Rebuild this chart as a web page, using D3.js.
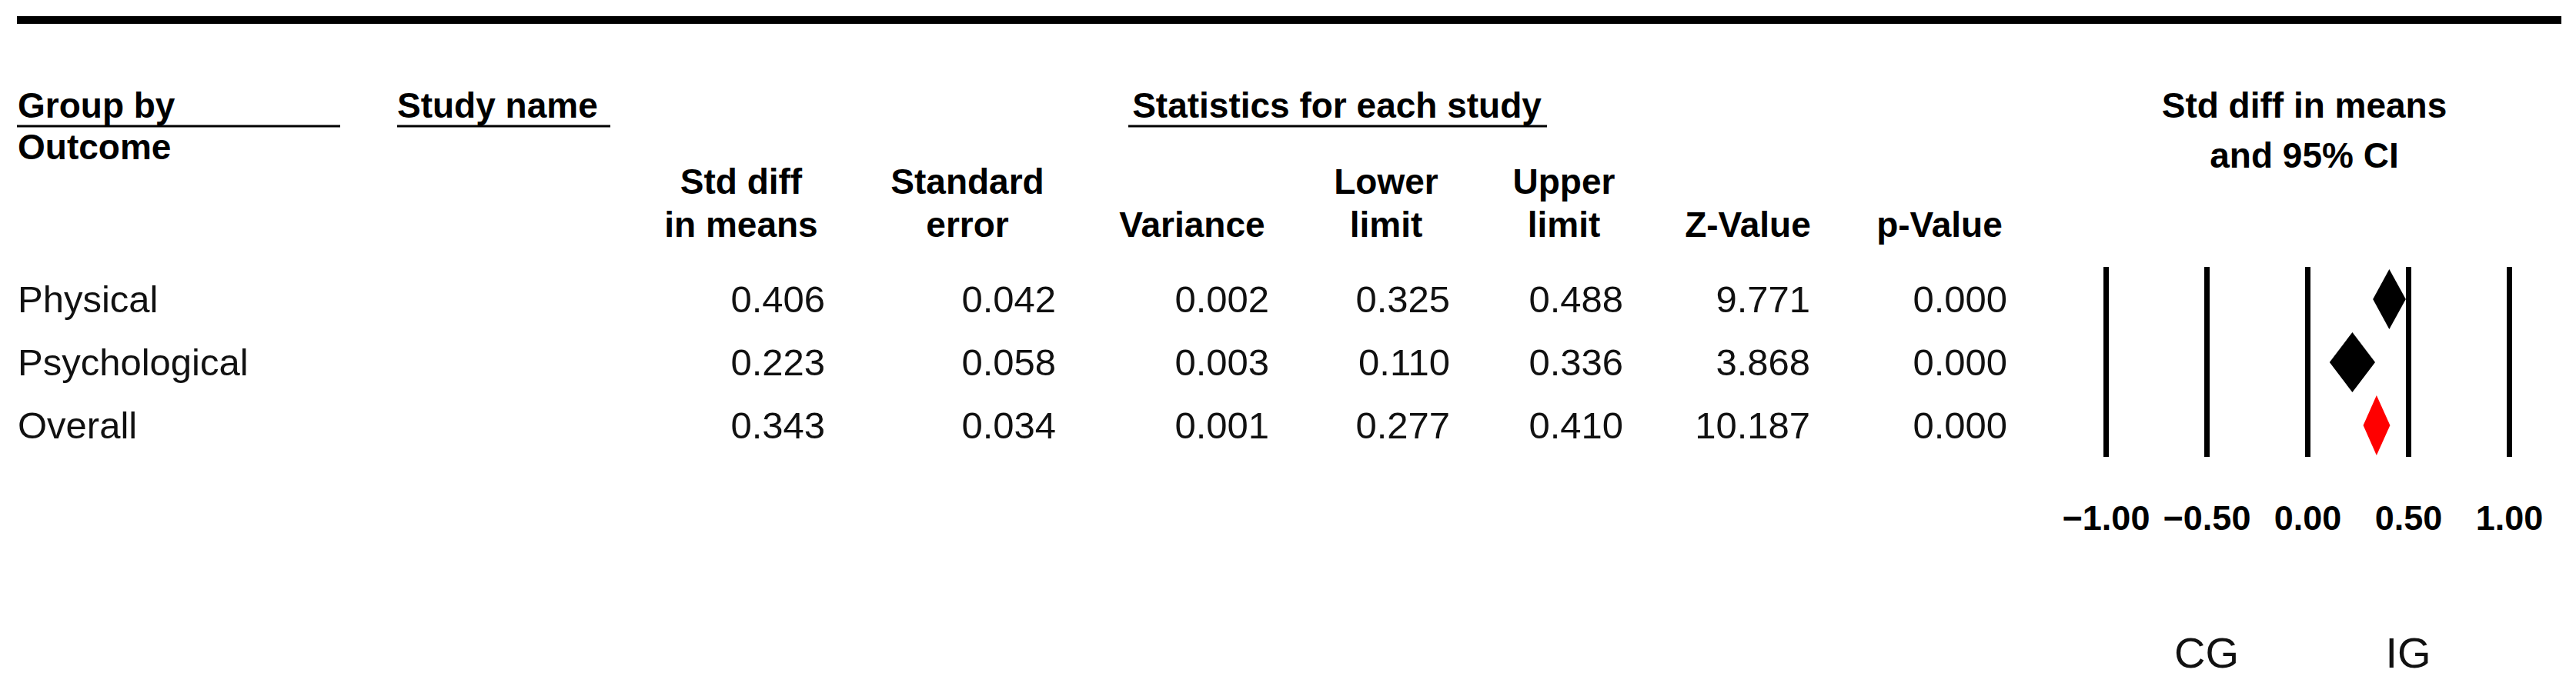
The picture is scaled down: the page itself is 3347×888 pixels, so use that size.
<!DOCTYPE html>
<html>
<head>
	<meta charset="utf-8">
	<title>Forest plot - Std diff in means</title>
</head>
<body>

<svg class="forest"></svg>

<style type="text/css">
	body {
		margin: 0;
		background: #fff;
	}

	.forest {
		display: block;
		background: #fff;
		font-family: "Liberation Sans", Arial, sans-serif;
	}

	.forest text {
		fill: #111;
	}

	.forest .head {
		font-weight: bold;
		font-size: 46px;
		fill: #000;
	}

	.forest .cell {
		font-size: 49px;
	}

	.forest .rule {
		stroke: #000;
	}

	.forest .axis .domain {
		display: none;
	}

	.forest .axis line {
		stroke: #000;
		stroke-width: 7px;
	}

	.forest .axis text {
		font-family: "Liberation Sans", Arial, sans-serif;
		font-size: 45px;
		font-weight: bold;
		fill: #000;
	}

	.forest .side {
		font-size: 56px;
	}
</style>

<script src="https://d3js.org/d3.v7.min.js"></script>
<script type="text/javascript">
	// data
	var outcomes = ['Physical', 'Psychological', 'Overall']
	var stdDiff = [0.406, 0.223, 0.343]
	var stdErr = [0.042, 0.058, 0.034]
	var variance = [0.002, 0.003, 0.001]
	var lower = [0.325, 0.110, 0.277]
	var upper = [0.488, 0.336, 0.410]
	var zValue = [9.771, 3.868, 10.187]
	var pValue = [0.000, 0.000, 0.000]

	var colHeads = [
		['Std diff', 'in means'],
		['Standard', 'error'],
		['', 'Variance'],
		['Lower', 'limit'],
		['Upper', 'limit'],
		['', 'Z-Value'],
		['', 'p-Value']
	]
	var colValues = [stdDiff, stdErr, variance, lower, upper, zValue, pValue]

	var tickValues = [-1, -0.5, 0, 0.5, 1]
	var sideLabels = ['CG', 'IG']
	var sideAt = [-0.5, 0.5];

	(function() {
		'use strict'

		var width = 3347
		var height = 888

		// column layout (right edge of numbers, centre of headers)
		var colRight = [1072, 1372, 1649, 1884, 2109, 2352, 2608]
		var headCenter = [963, 1257, 1549, 1801, 2032, 2271, 2520]

		var fmt = d3.format('.3f')

		var svg = d3.select('.forest')
			.attr('width', width)
			.attr('height', height)
			.attr('viewBox', [0, 0, width, height])

		// top rule
		svg.append('line')
			.attr('class', 'rule')
			.attr('x1', 22).attr('x2', 3328)
			.attr('y1', 26).attr('y2', 26)
			.style('stroke-width', 10)

		// top-level headers with underlines
		var titles = [
			{text: 'Group by', x: 23, anchor: 'start', u: [22, 442]},
			{text: 'Study name', x: 516, anchor: 'start', u: [516, 793]},
			{text: 'Statistics for each study', x: 1737, anchor: 'middle', u: [1466, 2010]}
		]

		svg.selectAll('.title')
			.data(titles)
			.enter()
			.append('text')
			.attr('class', 'head title')
			.attr('x', function(d) { return d.x })
			.attr('y', 153)
			.attr('text-anchor', function(d) { return d.anchor })
			.text(function(d) { return d.text })

		svg.selectAll('.underline')
			.data(titles)
			.enter()
			.append('line')
			.attr('class', 'rule underline')
			.attr('x1', function(d) { return d.u[0] })
			.attr('x2', function(d) { return d.u[1] })
			.attr('y1', 164).attr('y2', 164)
			.style('stroke-width', 3)

		svg.append('text')
			.attr('class', 'head')
			.attr('x', 23)
			.attr('y', 207)
			.text('Outcome')

		// column headers
		var heads = svg.selectAll('.colhead')
			.data(colHeads)
			.enter()
			.append('text')
			.attr('class', 'head colhead')
			.attr('text-anchor', 'middle')

		heads.append('tspan')
			.attr('x', function(d, i) { return headCenter[i] })
			.attr('y', 252)
			.text(function(d) { return d[0] })

		heads.append('tspan')
			.attr('x', function(d, i) { return headCenter[i] })
			.attr('y', 308)
			.text(function(d) { return d[1] })

		// rows
		var y = d3.scalePoint()
			.domain(outcomes)
			.range([389, 553])

		var baseShift = 17

		svg.selectAll('.rowname')
			.data(outcomes)
			.enter()
			.append('text')
			.attr('class', 'cell rowname')
			.attr('x', 23)
			.attr('y', function(d) { return y(d) + baseShift })
			.text(function(d) { return d })

		colValues.forEach(function(vals, c) {
			svg.selectAll('.col' + c)
				.data(vals)
				.enter()
				.append('text')
				.attr('class', 'cell col' + c)
				.attr('x', colRight[c])
				.attr('y', function(d, i) { return y(outcomes[i]) + baseShift })
				.attr('text-anchor', 'end')
				.text(fmt)
		})

		// forest panel
		var x = d3.scaleLinear()
			.domain([-1, 1])
			.range([2736, 3260])

		svg.append('text')
			.attr('class', 'head')
			.attr('text-anchor', 'middle')
			.selectAll('tspan')
			.data(['Std diff in means', 'and 95% CI'])
			.enter()
			.append('tspan')
			.attr('x', 2994)
			.attr('y', function(d, i) { return 153 + i * 65 })
			.text(function(d) { return d })

		var axisY = 594
		var axisTop = 347

		svg.append('g')
			.attr('class', 'axis')
			.attr('transform', 'translate(0,' + axisY + ')')
			.call(d3.axisBottom(x)
				.tickValues(tickValues)
				.tickSize(-(axisY - axisTop))
				.tickPadding(63)
				.tickFormat(d3.format('.2f')))

		var h = 39
		var diamond = d3.line()

		svg.selectAll('.diamond')
			.data(outcomes)
			.enter()
			.append('path')
			.attr('class', 'diamond')
			.attr('d', function(d, i) {
				var cy = y(d)
				return diamond([
					[x(lower[i]), cy],
					[x(stdDiff[i]), cy - h],
					[x(upper[i]), cy],
					[x(stdDiff[i]), cy + h]
				]) + 'Z'
			})
			.style('fill', function(d, i) { return i === outcomes.length - 1 ? '#f00' : '#000' })

		svg.selectAll('.side')
			.data(sideLabels)
			.enter()
			.append('text')
			.attr('class', 'side')
			.attr('x', function(d, i) { return x(sideAt[i]) })
			.attr('y', 868)
			.attr('text-anchor', 'middle')
			.text(function(d) { return d })
	})()
</script>
</body>
</html>
